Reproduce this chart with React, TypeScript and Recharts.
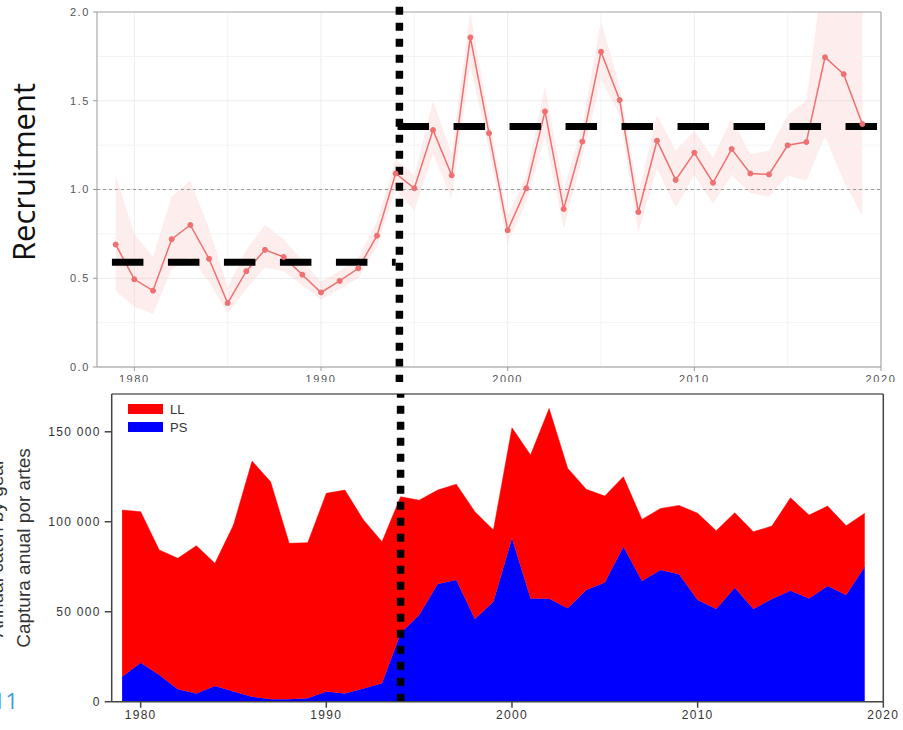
import React from "react";
import {
  ComposedChart,
  AreaChart,
  Area,
  Line,
  XAxis,
  YAxis,
  CartesianGrid,
  ReferenceLine,
} from "recharts";

// years of the assessment
const years = [
  1979, 1980, 1981, 1982, 1983, 1984, 1985, 1986, 1987, 1988, 1989, 1990, 1991, 1992,
  1993, 1994, 1995, 1996, 1997, 1998, 1999, 2000, 2001, 2002, 2003, 2004, 2005, 2006,
  2007, 2008, 2009, 2010, 2011, 2012, 2013, 2014, 2015, 2016, 2017, 2018, 2019,
];

// relative recruitment + confidence band
const recruitment = [
  0.69, 0.494, 0.43, 0.72, 0.8, 0.61, 0.36, 0.54, 0.66, 0.62, 0.52, 0.42, 0.485, 0.556,
  0.74, 1.09, 1.007, 1.335, 1.08, 1.857, 1.317, 0.77, 1.007, 1.44, 0.89, 1.27, 1.776, 1.504,
  0.873, 1.275, 1.054, 1.207, 1.038, 1.228, 1.09, 1.085, 1.249, 1.267, 1.745, 1.65, 1.369,
];
const recLow = [
  0.43, 0.34, 0.3, 0.55, 0.62, 0.48, 0.3, 0.44, 0.56, 0.54, 0.46, 0.38, 0.44, 0.5,
  0.68, 1.0, 0.88, 1.2, 0.95, 1.7, 1.22, 0.7, 0.93, 1.3, 0.78, 1.18, 1.62, 1.42,
  0.76, 1.12, 0.9, 1.08, 0.92, 1.08, 0.98, 0.96, 1.08, 1.05, 1.3, 1.05, 0.85,
];
const recHigh = [
  1.08, 0.75, 0.62, 0.96, 1.05, 0.78, 0.45, 0.66, 0.8, 0.72, 0.6, 0.48, 0.54, 0.62,
  0.82, 1.17, 1.08, 1.5, 1.2, 2.0, 1.4, 0.85, 1.08, 1.58, 1.0, 1.36, 1.95, 1.58,
  0.98, 1.42, 1.22, 1.33, 1.18, 1.4, 1.2, 1.22, 1.42, 1.5, 2.3, 2.3, 2.0,
];

// annual catch by gear (t)
const llCatch = [
  92600, 83900, 69500, 72800, 82100, 68200, 92600, 130900, 120900, 86700, 86500, 110200, 113000, 93600,
  78700, 75900, 63800, 52200, 53300, 59700, 39800, 61400, 79700, 105800, 77800, 55900, 48000, 38900,
  34200, 34200, 38300, 48200, 43500, 41700, 42900, 40500, 51600, 46300, 44400, 38500, 29700,
];
const psCatch = [
  13900, 21700, 14800, 6900, 4600, 8700, 5600, 2800, 1300, 1300, 1900, 5600, 4600, 7400,
  10200, 38000, 48200, 65400, 67600, 45900, 55600, 90800, 57400, 57200, 51900, 62100, 66300, 86100,
  67100, 73200, 70800, 56500, 51500, 63300, 51500, 57100, 61700, 57400, 64300, 59300, 75000,
];

// regime means (dashed black lines)
const regimeFrom = [1978.8, 1994.1];
const regimeTo = [1994, 2020];
const regimeMean = [0.59, 1.355];

const decadeTicks = [1980, 1990, 2000, 2010, 2020];
const minorYears = [1985, 1995, 2005, 2015];
const recTicks = [0, 0.5, 1, 1.5, 2];
const recMinor = [0.25, 0.75, 1.25, 1.75];
const catchTicks = [0, 50000, 100000, 150000];

const seriesNames = ["LL", "PS"];
const seriesColors = { LL: "#ff0000", PS: "#0000ff" };

const recData = years.map((year, i) => ({
  year,
  rec: recruitment[i],
  band: [recLow[i], recHigh[i]],
}));
const catchData = years.map((year, i) => ({ year, LL: llCatch[i], PS: psCatch[i] }));

const fmtThousands = (v: number) => String(v).replace(/\B(?=(\d{3})+(?!\d))/g, " ");

const topTick = { fontSize: 11, fill: "#555", fontFamily: "Liberation Sans", letterSpacing: 1.6 };
const bottomTick = { fontSize: 12, fill: "#333", fontFamily: "Liberation Sans", letterSpacing: 1.3 };

function CatchLegend() {
  return (
    <div
      style={{
        position: "absolute",
        left: 128,
        top: 400,
        fontFamily: "Liberation Sans",
        fontSize: 13,
        color: "#333",
      }}
    >
      {seriesNames.map((name) => (
        <div key={name} style={{ display: "flex", alignItems: "center", height: 18 }}>
          <span
            style={{
              display: "inline-block",
              width: 35,
              height: 10,
              background: seriesColors[name as keyof typeof seriesColors],
              marginRight: 7,
            }}
          />
          {name}
        </div>
      ))}
    </div>
  );
}

export default function App() {
  return (
    <div
      style={{
        position: "absolute",
        left: 0,
        top: 0,
        width: 903,
        height: 730,
        overflow: "hidden",
        background: "#fff",
      }}
    >
      {/* Recruitment panel */}
      <div style={{ position: "absolute", left: 0, top: 0 }}>
        <ComposedChart width={903} height={392} data={recData} margin={{ top: 12, right: 22, left: 57, bottom: 3 }}>
          <CartesianGrid stroke="#ececec" strokeWidth={1} horizontalValues={recTicks} verticalValues={decadeTicks} />
          {minorYears.map((y) => (
            <ReferenceLine key={"mx" + y} x={y} stroke="#f3f3f3" strokeWidth={1} />
          ))}
          {recMinor.map((v) => (
            <ReferenceLine key={"my" + v} y={v} stroke="#f3f3f3" strokeWidth={1} />
          ))}
          <XAxis
            dataKey="year"
            type="number"
            domain={[1978, 2020]}
            ticks={decadeTicks}
            allowDataOverflow
            height={22}
            tick={topTick}
            tickSize={4}
            tickMargin={4}
            stroke="#999"
          />
          <YAxis
            type="number"
            domain={[0, 2]}
            ticks={recTicks}
            allowDataOverflow
            width={40}
            tick={topTick}
            tickFormatter={(v) => Number(v).toFixed(1)}
            tickSize={4}
            tickMargin={3}
            stroke="#999"
          />
          <ReferenceLine y={2} stroke="#aaa" strokeWidth={1.2} />
          <ReferenceLine x={2020} stroke="#aaa" strokeWidth={1.2} />
          <ReferenceLine y={1} stroke="#999" strokeDasharray="3 3" strokeWidth={1} />
          <Area
            dataKey="band"
            type="linear"
            stroke="none"
            fill="#f8c4c4"
            fillOpacity={0.3}
            isAnimationActive={false}
            activeDot={false}
          />
          <Line
            dataKey="rec"
            type="linear"
            stroke="#ef7070"
            strokeWidth={1.5}
            dot={{ r: 2.5, fill: "#ef7070", stroke: "#ef7070", strokeWidth: 1 }}
            isAnimationActive={false}
          />
          {regimeMean.map((m, i) => (
            <ReferenceLine
              key={"reg" + i}
              segment={[
                { x: regimeFrom[i], y: m },
                { x: regimeTo[i], y: m },
              ]}
              stroke="#000"
              strokeWidth={7}
              strokeDasharray="31.5 24.5"
              ifOverflow="visible"
            />
          ))}
          <ReferenceLine
            segment={[
              { x: 1994.2, y: 2.03 },
              { x: 1994.2, y: -0.12 },
            ]}
            stroke="#000"
            strokeWidth={7.5}
            strokeDasharray="8 8"
            ifOverflow="visible"
          />
        </ComposedChart>
      </div>

      <div
        style={{
          position: "absolute",
          left: 22.5 - 100,
          top: 171.5 - 20,
          width: 200,
          height: 40,
          lineHeight: "40px",
          textAlign: "center",
          transform: "rotate(-90deg)",
          fontFamily: "Open Sans",
          fontSize: 31,
          color: "#111",
          whiteSpace: "nowrap",
        }}
      >
        Recruitment
      </div>

      {/* Catch panel */}
      <div style={{ position: "absolute", left: 0, top: 382, background: "#fff" }}>
        <AreaChart width={903} height={348} data={catchData} margin={{ top: 12, right: 19.7, left: 51.7, bottom: 3.3 }}>
          <XAxis
            dataKey="year"
            type="number"
            domain={[1978.44, 2020]}
            ticks={decadeTicks}
            allowDataOverflow
            height={25}
            tick={bottomTick}
            tickSize={6}
            tickMargin={3}
            stroke="#444"
            strokeWidth={1.5}
          />
          <YAxis
            type="number"
            domain={[0, 171000]}
            ticks={catchTicks}
            allowDataOverflow
            width={60}
            tick={bottomTick}
            tickFormatter={fmtThousands}
            tickSize={7}
            tickMargin={4}
            stroke="#444"
            strokeWidth={1.5}
          />
          <Area
            dataKey="PS"
            name="PS"
            stackId="gear"
            type="linear"
            stroke={seriesColors.PS}
            strokeWidth={0.5}
            fill={seriesColors.PS}
            fillOpacity={1}
            isAnimationActive={false}
            activeDot={false}
          />
          <Area
            dataKey="LL"
            name="LL"
            stackId="gear"
            type="linear"
            stroke={seriesColors.LL}
            strokeWidth={0.5}
            fill={seriesColors.LL}
            fillOpacity={1}
            isAnimationActive={false}
            activeDot={false}
          />
          <ReferenceLine y={171000} stroke="#666" strokeWidth={1.5} />
          <ReferenceLine x={2020} stroke="#444" strokeWidth={1.5} />
          <ReferenceLine x={1994} stroke="#000" strokeWidth={7.5} strokeDasharray="8 8" />
        </AreaChart>
      </div>

      <CatchLegend />

      <div
        style={{
          position: "absolute",
          left: -3 - 150,
          top: 548 - 12,
          width: 300,
          height: 24,
          lineHeight: "24px",
          textAlign: "center",
          transform: "rotate(-90deg)",
          fontFamily: "Liberation Sans",
          fontSize: 19,
          color: "#333",
          whiteSpace: "nowrap",
        }}
      >
        Annual catch by gear
      </div>
      <div
        style={{
          position: "absolute",
          left: 24 - 150,
          top: 548 - 12,
          width: 300,
          height: 24,
          lineHeight: "24px",
          textAlign: "center",
          transform: "rotate(-90deg)",
          fontFamily: "Liberation Sans",
          fontSize: 19,
          color: "#333",
          whiteSpace: "nowrap",
        }}
      >
        Captura anual por artes
      </div>

      <div
        style={{
          position: "absolute",
          left: -17,
          top: 688.5,
          width: 35,
          lineHeight: "22px",
          textAlign: "right",
          fontFamily: "Open Sans",
          fontSize: 22,
          color: "#3b9ad8",
        }}
      >
        11
      </div>
    </div>
  );
}
